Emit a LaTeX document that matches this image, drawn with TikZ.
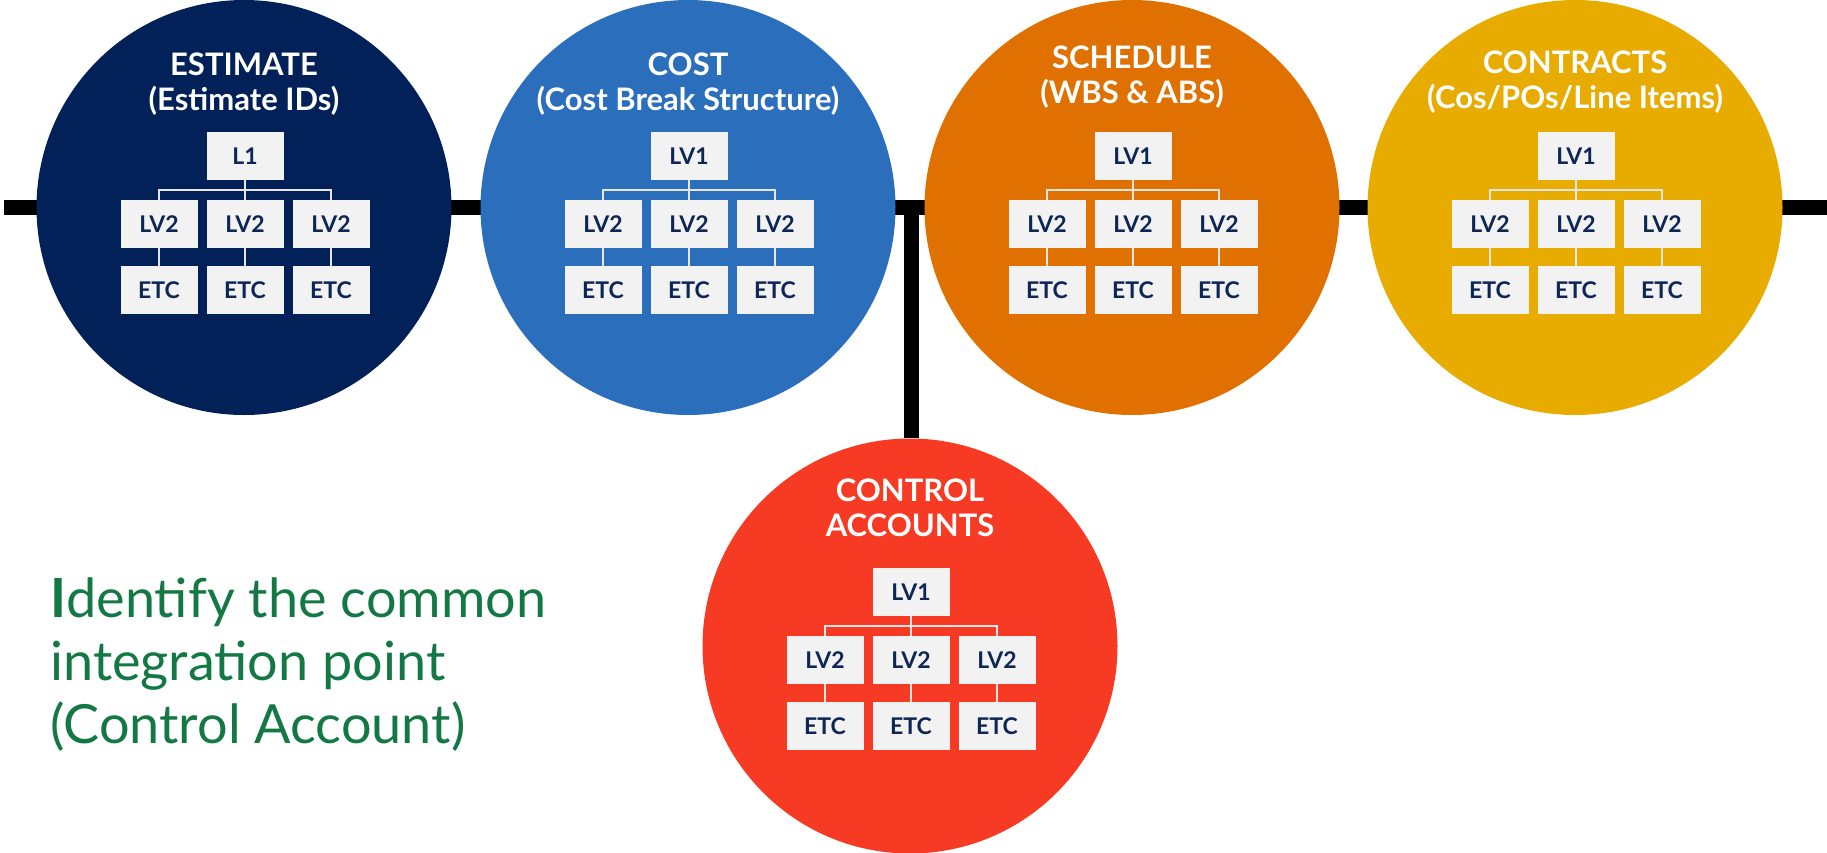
\documentclass[tikz,border=0pt]{standalone}
\usepackage{fontspec}
\setmainfont{Lato}
\usepackage{xcolor}
\definecolor{estnavy}{HTML}{022158}
\definecolor{costblue}{HTML}{2B6EBB}
\definecolor{schorange}{HTML}{E07000}
\definecolor{contrgold}{HTML}{E8AB00}
\definecolor{ctrlred}{HTML}{F63A24}
\definecolor{boxgray}{HTML}{F2F2F2}
\definecolor{boxtext}{HTML}{0E2656}
\definecolor{linkgray}{HTML}{E6E6E6}
\definecolor{capgreen}{HTML}{137844}
\usetikzlibrary{positioning}

\begin{document}
\begin{tikzpicture}[x=0.5pt,y=-0.5pt,
  disc/.style={circle, minimum size=207.5pt, inner sep=0pt},
  cirtitle/.style={align=center, text=white, inner sep=0pt,
                   font=\fontsize{15.5}{17.5}\selectfont\bfseries},
  lvbox/.style={fill=boxgray, minimum width=38.5pt, minimum height=24pt,
                inner sep=0pt, font=\fontsize{11.5}{12}\selectfont\bfseries\color{boxtext}},
  link/.style={draw=linkgray, line width=1pt},
  trunk/.style={draw=black, line width=7.5pt}
]
  \useasboundingbox (0,0) rectangle (1827,852);

  % the timeline behind the circles
  \coordinate (lineL) at (4,207.5);
  \coordinate (lineR) at (1827,207.5);
  \coordinate (joint) at (911,207.5);
  \draw[trunk] (lineL) -- (lineR);

  \node[disc, fill=estnavy]   (est)   at (244,207.5)  {};
  \node[disc, fill=costblue]  (cost)  at (688,207.5)  {};
  \node[disc, fill=schorange] (sched) at (1132,207.5) {};
  \node[disc, fill=contrgold] (contr) at (1575,207.5) {};
  \node[disc, fill=ctrlred]   (ctrl)  at (910,646)    {};

  \draw[trunk] (joint) -- (joint |- ctrl.north);

  \node[cirtitle] (est-t)   at (244,84.5)  {ESTIMATE\\(Estimate IDs)};
  \node[cirtitle] (cost-t)  at (688,84.5)  {COST\\(Cost Break Structure)};
  \node[cirtitle] (sched-t) at (1132,77)   {SCHEDULE\\(WBS \& ABS)};
  \node[cirtitle] (contr-t) at (1575,82.5) {CONTRACTS\\(Cos/POs/Line Items)};
  \node[cirtitle] (ctrl-t)  at (910,507.5) {CONTROL\\ACCOUNTS};

  % one small breakdown tree per circle
  \foreach \n/\cx/\ty/\tl in {est/245/156/L1, cost/689/156/LV1, sched/1133/156/LV1,
                              contr/1576/156/LV1, ctrl/911/592/LV1} {
    \node[lvbox] (\n-top) at (\cx,\ty) {\tl};
    \foreach \i/\dx in {1/-86,2/0,3/86} {
      \node[lvbox] (\n-m\i) at (\cx+\dx,\ty+68)  {LV2};
      \node[lvbox] (\n-e\i) at (\cx+\dx,\ty+134) {ETC};
      \draw[link] (\n-top.south) -- ++(0,10) -| (\n-m\i.north);
      \draw[link] (\n-m\i) -- (\n-e\i);
    }
  }

  % base anchor sits on the last line
  \node[anchor=base west, align=left, inner sep=0pt, text=capgreen,
        font=\fontsize{27}{31.5}\selectfont] (note) at (50,743)
    {{\bfseries I}dentify the common\\integration point\\(Control Account)};
\end{tikzpicture}
\end{document}
